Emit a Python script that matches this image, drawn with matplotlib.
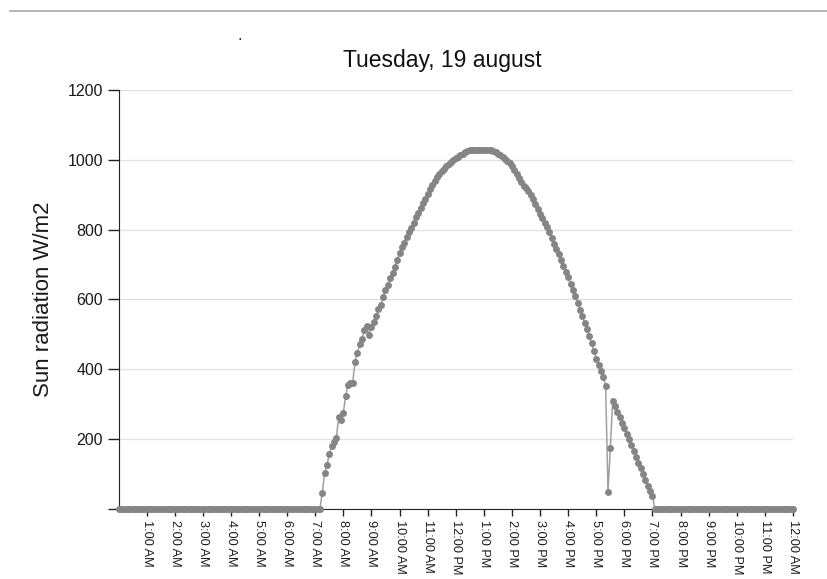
import matplotlib
matplotlib.use("Agg")
import matplotlib.pyplot as plt
from matplotlib.lines import Line2D
import numpy as np

plt.rcParams['font.family'] = ['Liberation Sans', 'DejaVu Sans']

# 5-minute readings, W/m2
night_before = [0] * 87      # 0:00 .. 7:10
daylight = [
    # 7:15 .. 10:25
    47, 102, 126, 157, 181, 193, 202, 264, 255, 276,
    325, 355, 360, 362, 422, 448, 473, 488, 513, 524,
    499, 521, 535, 553, 572, 585, 607, 627, 642, 661,
    677, 694, 713, 733, 750, 763, 778, 792, 805,
    # 10:30 .. 14:20
    820, 835, 849, 862, 875, 889, 903, 917, 929, 940,
    951, 960, 968, 975, 981, 987, 993, 999, 1004, 1009,
    1013, 1018, 1022, 1025, 1028, 1028, 1028, 1028, 1028, 1028,
    1028, 1028, 1028, 1028, 1026, 1022, 1018, 1013, 1008, 1003,
    998, 991, 982, 972, 959, 947, 936,
    # 14:25 .. 17:15
    926, 918, 910, 900, 888, 874, 860, 846, 833, 820,
    807, 793, 777, 760, 745, 729, 712, 696, 680, 663,
    645, 627, 609, 591, 571, 552, 533, 515, 496, 475,
    452, 431, 411, 395, 379,
    # 17:20 .. 19:00
    352, 50, 174, 310, 295, 279, 263, 247, 231, 215,
    200, 183, 167, 150, 132, 117, 100, 83, 67, 52, 38,
]
night_after = [0] * 60       # 19:05 .. 24:00

radiation = night_before + daylight + night_after
hours = np.arange(len(radiation)) * 5 / 60.0

tick_hours = list(range(1, 25))
tick_labels = ["1:00 AM", "2:00 AM", "3:00 AM", "4:00 AM", "5:00 AM", "6:00 AM",
               "7:00 AM", "8:00 AM", "9:00 AM", "10:00 AM", "11:00 AM", "12:00 PM",
               "1:00 PM", "2:00 PM", "3:00 PM", "4:00 PM", "5:00 PM", "6:00 PM",
               "7:00 PM", "8:00 PM", "9:00 PM", "10:00 PM", "11:00 PM", "12:00 AM"]
y_ticks = [0, 200, 400, 600, 800, 1000, 1200]
y_labels = ["", "200", "400", "600", "800", "1000", "1200"]

fig = plt.figure(figsize=(8.27, 5.79), dpi=100)
ax = fig.add_axes([0.1433, 0.1209, 0.8156, 0.7237])

ax.plot(hours, radiation, color="#a0a0a0", lw=1.1, zorder=3,
        marker="o", markersize=5.0, markerfacecolor="#858585",
        markeredgecolor="#858585", markeredgewidth=0, clip_on=False)

ax.set_xlim(0, 24)
ax.set_ylim(0, 1200)
ax.set_xticks(tick_hours)
ax.set_xticklabels(tick_labels, rotation=270, fontsize=9.2, color="#1a1a1a")
ax.set_yticks(y_ticks)
ax.set_yticklabels(y_labels, fontsize=11.5, color="#1a1a1a")
ax.set_xticks(range(0, 25), minor=True)
ax.grid(True, which="minor", axis="x", color="#e2e2e2", lw=1)
ax.grid(True, which="major", axis="y", color="#e2e2e2", lw=1)
ax.tick_params(axis="x", which="major", length=5, width=1, color="#222222", pad=3)
ax.tick_params(axis="x", which="minor", length=0)
ax.tick_params(axis="y", length=8, width=1, color="#222222", pad=3)
ax.set_axisbelow(True)

for side in ["top", "right"]:
    ax.spines[side].set_visible(False)
ax.spines["left"].set_color("#222222")
ax.spines["bottom"].set_color("#222222")

ax.set_ylabel("Sun radiation W/m2", fontsize=16, color="#1a1a1a", labelpad=10)
fig.text(442 / 827, 1 - 60 / 579, "Tuesday, 19 august", fontsize=16.5,
         ha="center", va="center", color="#111111")

# thin rule at the top of the page and the stray dot
fig.add_artist(Line2D([10 / 827, 1.0], [1 - 11 / 579] * 2, color="#a8a8a8", lw=1.2))
fig.text(240 / 827, 1 - 40 / 579, ".", fontsize=12, ha="center", va="baseline",
         color="#222222")

fig.savefig("out.png", dpi=100)
